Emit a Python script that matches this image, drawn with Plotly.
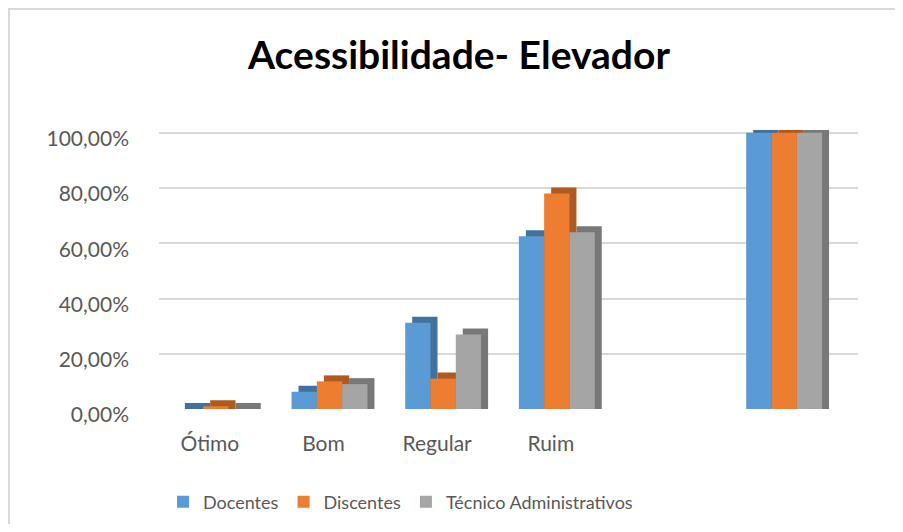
import plotly.graph_objects as go

categories = ["Ótimo", "Bom", "Regular", "Ruim", "", ""]
docentes = [0.0, 0.0625, 0.3125, 0.625, None, 1.0]
discentes = [0.01, 0.10, 0.11, 0.78, None, 1.0]
tecnico = [0.0, 0.09, 0.27, 0.64, None, 1.0]
y_ticks = [0, 0.2, 0.4, 0.6, 0.8, 1.0]

series = [
    ("Docentes", docentes, "#5b9bd5", "#41719c"),
    ("Discentes", discentes, "#ed7d31", "#ae5a21"),
    ("Técnico Administrativos", tecnico, "#a5a5a5", "#787878"),
]

# the page body adds an 8px margin; work in page pixels and subtract it
OFF = 8
W, H = 903 - OFF, 532 - 2 * OFF
L, R = 159 - OFF, 858 - OFF
T, B = 130 - OFF, 409 - OFF
xpos = list(range(len(categories)))
XMIN, XMAX = -0.5, 5.65
YMAX = 1.01

cat_px = (R - L) / (XMAX - XMIN)
val_px = (B - T) / YMAX
bar_w = 25.3 / cat_px
group_left = -1.5 * bar_w
dx = 7 / cat_px      # depth of 3D side (style)
dy = 6 / val_px      # depth of 3D top (style)

fig = go.Figure()
# darker depth faces first (same values, raised by the depth)
for i, (name, vals, col, dark) in enumerate(series):
    depth_vals = [None if v is None else v + dy for v in vals]
    fig.add_trace(go.Bar(x=xpos, y=depth_vals, width=bar_w,
                         offset=group_left + i * bar_w + dx,
                         marker=dict(color=dark, line=dict(width=0)),
                         showlegend=False, hoverinfo="skip"))
# front faces
for i, (name, vals, col, dark) in enumerate(series):
    fig.add_trace(go.Bar(x=xpos, y=vals, name=name, width=bar_w,
                         offset=group_left + i * bar_w,
                         marker=dict(color=col, line=dict(width=0))))

def px_x(p):
    return (p - OFF - L) / (R - L)

def px_y(p):
    return (B - (p - OFF)) / (B - T)

font = "Lato, Calibri, 'Open Sans', sans-serif"
fig.update_layout(
    width=W, height=H,
    margin=dict(l=L, r=W - R, t=T, b=H - B, autoexpand=False),
    paper_bgcolor="white", plot_bgcolor="white",
    separators=",.",
    barmode="overlay",
    font=dict(family=font, size=20, color="#595959"),
    title=dict(text="<b>Acessibilidade- Elevador</b>", x=(459 - OFF) / W, xanchor="center",
               y=1 - (55 - OFF) / H, yanchor="middle", yref="container",
               font=dict(family=font, size=39, color="#000000")),
    xaxis=dict(tickmode="array", tickvals=xpos, ticktext=categories, range=[XMIN, XMAX],
               showgrid=False, zeroline=False, showline=False, ticks="",
               ticklabelstandoff=20, ticklabelshift=-6,
               tickfont=dict(family=font, size=21, color="#595959")),
    yaxis=dict(range=[0, YMAX], tickmode="array", tickvals=y_ticks, tickformat=".2%",
               showgrid=True, gridcolor="#d9d9d9", gridwidth=2, zeroline=False,
               showline=False, ticks="", ticklabelstandoff=29, ticklabelshift=6,
               tickfont=dict(family=font, size=21, color="#595959")),
    legend=dict(orientation="h", x=(163 - OFF) / W, xanchor="left", xref="container",
                y=(532 - OFF - 502) / H, yanchor="middle", yref="container",
                font=dict(family=font, size=18, color="#595959"),
                itemwidth=30, traceorder="normal"),
    shapes=[
        dict(type="line", xref="paper", yref="paper", x0=px_x(9), x1=px_x(903),
             y0=px_y(9), y1=px_y(9), line=dict(color="#d9d9d9", width=2)),
        dict(type="line", xref="paper", yref="paper", x0=px_x(9), x1=px_x(9),
             y0=px_y(8), y1=px_y(532), line=dict(color="#d9d9d9", width=2)),
    ],
    showlegend=True,
)

fig.write_html("out.html")
